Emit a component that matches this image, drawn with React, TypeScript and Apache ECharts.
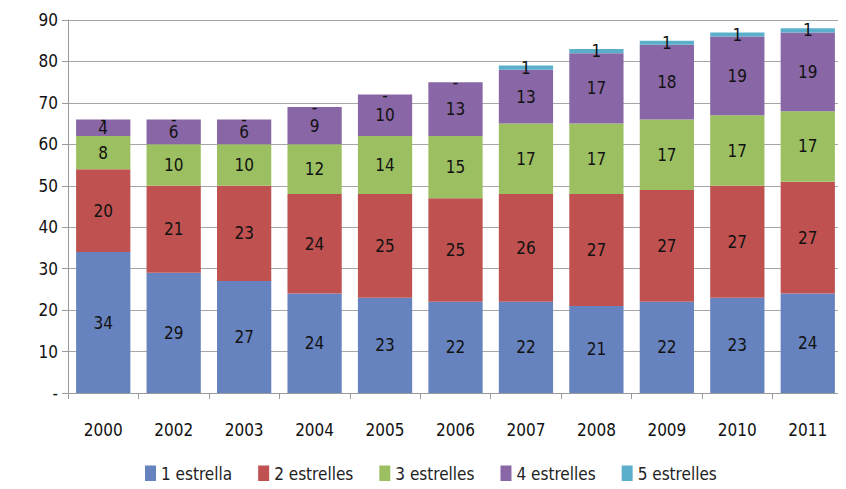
import React, { useEffect, useRef } from "react";
import * as echarts from "echarts";

const years = ["2000", "2002", "2003", "2004", "2005", "2006", "2007", "2008", "2009", "2010", "2011"];
const star1 = [34, 29, 27, 24, 23, 22, 22, 21, 22, 23, 24];
const star2 = [20, 21, 23, 24, 25, 25, 26, 27, 27, 27, 27];
const star3 = [8, 10, 10, 12, 14, 15, 17, 17, 17, 17, 17];
const star4 = [4, 6, 6, 9, 10, 13, 13, 17, 18, 19, 19];
const star5 = [0, 0, 0, 0, 0, 0, 1, 1, 1, 1, 1];
const seriesNames = ["1 estrella", "2 estrelles", "3 estrelles", "4 estrelles", "5 estrelles"];
const colors = ["#6783BF", "#BF5250", "#9CC061", "#8966A5", "#5BAFCB"];

const FONT = "'Liberation Sans Narrow', 'DejaVu Sans Condensed', 'Open Sans', sans-serif";

export default function App() {
  const ref = useRef<HTMLDivElement>(null);
  useEffect(() => {
    if (!ref.current) return;
    const chart = echarts.init(ref.current, undefined, { renderer: "svg" });
    const all = [star1, star2, star3, star4, star5];
    chart.setOption({
      animation: false,
      color: colors,
      textStyle: { fontFamily: FONT },
      grid: { left: 68, right: 3, top: 20, bottom: 96 },
      legend: {
        bottom: 2,
        left: 140,
        itemWidth: 11,
        itemHeight: 16,
        itemGap: 26,
        icon: "rect",
        textStyle: { fontFamily: FONT, fontSize: 17, color: "#222" },
        data: seriesNames,
      },
      xAxis: {
        type: "category",
        data: years,
        axisLine: { lineStyle: { color: "#9a9a9a", width: 1 } },
        axisTick: { show: true, length: 6, lineStyle: { color: "#9a9a9a" } },
        axisLabel: { fontFamily: FONT, fontSize: 17, color: "#111", margin: 28 },
      },
      yAxis: {
        type: "value",
        min: 0,
        max: 90,
        interval: 10,
        axisLine: { show: true, lineStyle: { color: "#9a9a9a", width: 1 } },
        axisTick: { show: true, length: 6, lineStyle: { color: "#9a9a9a" } },
        splitLine: { lineStyle: { color: "#a6a6a6", width: 1 } },
        axisLabel: {
          fontFamily: FONT,
          fontSize: 17,
          color: "#111",
          margin: 10,
          formatter: (v: number) => (v === 0 ? "-" : String(v)),
        },
      },
      series: all.map((d, i) => ({
        name: seriesNames[i],
        type: "bar",
        stack: "total",
        barCategoryGap: "23%",
        data: d,
        itemStyle: { color: colors[i] },
        label: {
          show: true,
          position: "inside",
          fontFamily: FONT,
          fontSize: 17,
          color: "#111",
          formatter: (p: any) => (p.value === 0 ? "-" : String(p.value)),
        },
      })),
    });
    return () => chart.dispose();
  }, []);
  return <div ref={ref} style={{ width: 846, height: 489, margin: -8 }} />;
}
